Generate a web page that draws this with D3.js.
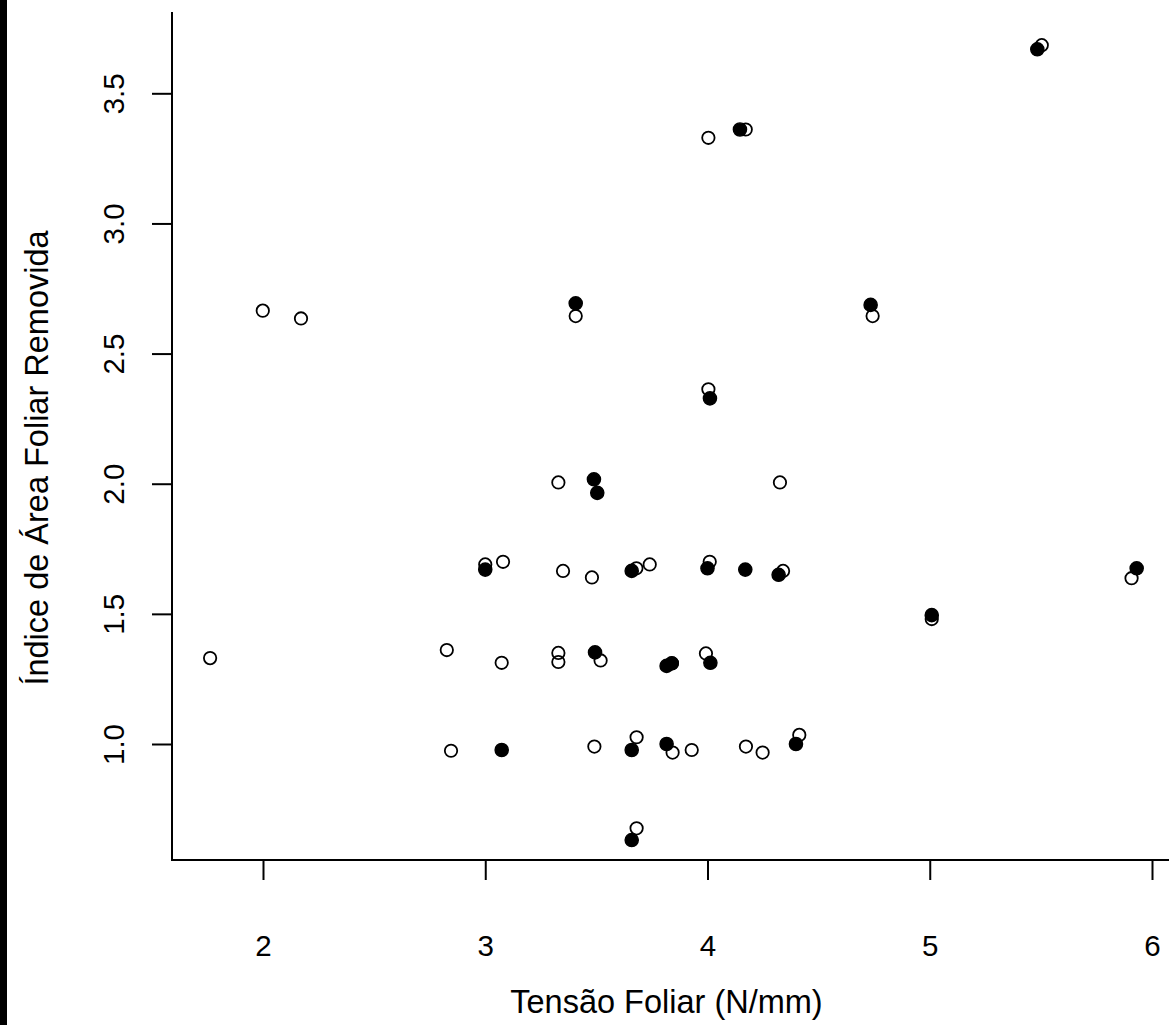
<!DOCTYPE html>
<html>
<head>
<meta charset="utf-8">
<script src="https://cdn.jsdelivr.net/npm/d3@7/dist/d3.min.js"></script>
<style>
  html, body { margin: 0; padding: 0; background: #ffffff; }
  svg { display: block; }
  text { font-family: "Liberation Sans", Arial, sans-serif; fill: #000; }
</style>
</head>
<body>
<svg id="chart" width="1169" height="1025"></svg>
<script>
// ---- data ----
const tensaoAberto = [1.762, 1.999, 2.171, 2.827, 2.846, 3.00, 3.08, 3.074, 3.329, 3.329, 3.329, 3.35, 3.407, 3.48, 3.491, 3.519, 3.68, 3.681, 3.681, 3.74, 3.843, 3.84, 3.929, 3.993, 4.004, 4.004, 4.01, 4.172, 4.173, 4.248, 4.326, 4.34, 4.413, 4.743, 5.009, 5.504, 5.908];
const indiceAberto = [1.330, 2.665, 2.635, 1.361, 0.974, 1.69, 1.70, 1.312, 1.350, 1.315, 2.005, 1.665, 2.644, 1.64, 0.990, 1.321, 1.675, 1.026, 0.676, 1.69, 0.967, 1.31, 0.977, 1.348, 3.329, 2.363, 1.70, 3.361, 0.990, 0.967, 2.005, 1.665, 1.035, 2.644, 1.480, 3.685, 1.637];

const tensaoCheio = [3.00, 3.074, 3.407, 3.489, 3.504, 3.494, 3.659, 3.659, 3.659, 3.816, 3.839, 3.816, 4.000, 4.011, 4.013, 4.146, 4.17, 4.32, 4.398, 4.734, 5.009, 5.484, 5.931];
const indiceCheio = [1.67, 0.977, 2.693, 2.017, 1.965, 1.352, 1.665, 0.977, 0.631, 1.300, 1.310, 1.000, 1.675, 2.328, 1.312, 3.361, 1.67, 1.65, 1.000, 2.687, 1.495, 3.669, 1.675];

const xTicks = [2, 3, 4, 5, 6];
const yTicks = [1.0, 1.5, 2.0, 2.5, 3.0, 3.5];
const xTitle = "Tensão Foliar (N/mm)";
const yTitle = "Índice de Área Foliar Removida";

(function () {
  const svg = d3.select("#chart");
  const W = 1169, H = 1025;
  const pLeft = 172, pBottom = 860, pTop = 12, pRight = 1174;

  svg.append("rect").attr("x", 0).attr("y", 0).attr("width", W).attr("height", H).attr("fill", "#fff");
  svg.append("rect").attr("x", 0).attr("y", 0).attr("width", 7).attr("height", H).attr("fill", "#000");

  const x = d3.scaleLinear().domain([2, 6]).range([263, 1152]);
  const y = d3.scaleLinear().domain([1, 3.5]).range([744, 93.3]);

  // L-shaped box
  svg.append("path")
    .attr("d", `M${pLeft},${pTop}V${pBottom}H${pRight}`)
    .attr("fill", "none").attr("stroke", "#000").attr("stroke-width", 2);

  // x axis
  const gx = svg.append("g").attr("transform", `translate(0,${pBottom})`)
    .call(d3.axisBottom(x).tickValues(xTicks).tickSize(20).tickFormat(d3.format("d")));
  gx.select(".domain").remove();
  gx.selectAll(".tick line").attr("stroke", "#000").attr("stroke-width", 2);
  gx.selectAll(".tick text").attr("y", 96).attr("dy", null)
    .style("font-size", "29.5px").style("font-family", "'Liberation Sans', Arial, sans-serif").attr("fill", "#000");

  // y axis
  const gy = svg.append("g").attr("transform", `translate(${pLeft},0)`)
    .call(d3.axisLeft(y).tickValues(yTicks).tickSize(20).tickFormat(d3.format(".1f")));
  gy.select(".domain").remove();
  gy.selectAll(".tick line").attr("stroke", "#000").attr("stroke-width", 2);
  gy.selectAll(".tick text")
    .attr("x", null).attr("dy", null)
    .attr("text-anchor", "middle")
    .attr("transform", "translate(-48,0) rotate(-90)")
    .style("font-size", "29.5px").style("font-family", "'Liberation Sans', Arial, sans-serif").attr("fill", "#000");

  // titles
  svg.append("text").attr("x", 666.5).attr("y", 1013).attr("text-anchor", "middle")
    .style("font-size", "32.5px").text(xTitle);
  svg.append("text").attr("transform", "translate(48,458) rotate(-90)").attr("text-anchor", "middle")
    .style("font-size", "32.5px").text(yTitle);

  // points
  const aberto = tensaoAberto.map((v, i) => ({ x: v, y: indiceAberto[i] }));
  const cheio = tensaoCheio.map((v, i) => ({ x: v, y: indiceCheio[i] }));

  svg.append("g").selectAll("circle").data(aberto).join("circle")
    .attr("cx", d => x(d.x)).attr("cy", d => y(d.y)).attr("r", 6.2)
    .attr("fill", "none").attr("stroke", "#000").attr("stroke-width", 1.8);

  svg.append("g").selectAll("circle").data(cheio).join("circle")
    .attr("cx", d => x(d.x)).attr("cy", d => y(d.y)).attr("r", 6.6)
    .attr("fill", "#000").attr("stroke", "#000").attr("stroke-width", 1.4);
})();
</script>
</body>
</html>
